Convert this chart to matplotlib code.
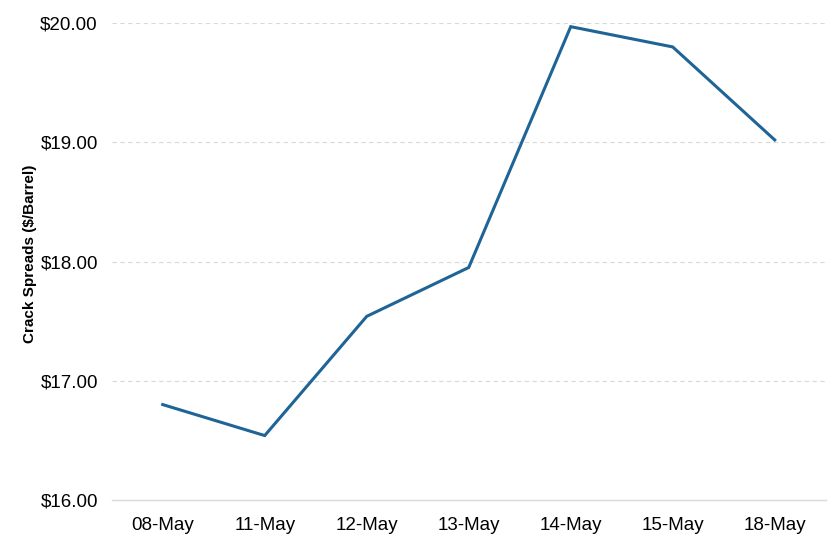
import numpy as np
import matplotlib
matplotlib.use('Agg')
import matplotlib.pyplot as plt

# data
dates = ['08-May', '11-May', '12-May', '13-May', '14-May', '15-May', '18-May']
crack_spreads = [16.80, 16.54, 17.54, 17.95, 19.97, 19.80, 19.02]
y_ticks = [16, 17, 18, 19, 20]

plt.rcParams['font.family'] = ['Liberation Sans', 'DejaVu Sans']

fig = plt.figure(figsize=(8.4, 5.37), dpi=100)
ax = fig.add_axes([0.133, 0.069, 0.850, 0.888])

x = np.arange(len(dates))
ax.plot(x, crack_spreads, color='#1f6496', linewidth=2.2, solid_joinstyle='miter')

ax.set_xlim(-0.5, len(dates) - 0.5)
ax.set_ylim(16, 20)
ax.set_xticks(x)
ax.set_xticklabels(dates, fontsize=13.5)
ax.set_yticks(y_ticks)
ax.set_yticklabels([f'${v:.2f}' for v in y_ticks], fontsize=13.5)
ax.tick_params(length=0, pad=10)
ax.tick_params(axis='x', pad=12)

for v in y_ticks[1:]:
    ax.axhline(v, color='#d9d9d9', linewidth=0.8, linestyle=(0, (4, 3)), zorder=0)

for side in ['top', 'right', 'left']:
    ax.spines[side].set_visible(False)
ax.spines['bottom'].set_color('#d9d9d9')
ax.spines['bottom'].set_linewidth(1)

ax.set_ylabel('Crack Spreads ($/Barrel)', fontsize=11, fontweight='bold')
ax.yaxis.set_label_coords(-0.105, 0.516)

fig.savefig('out.png', dpi=100)
